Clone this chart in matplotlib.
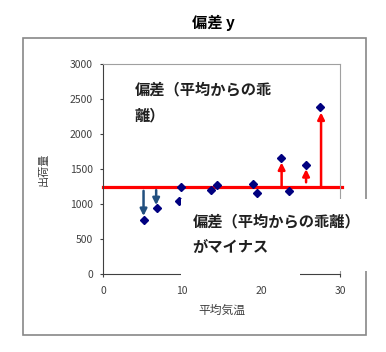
import matplotlib
matplotlib.use("Agg")
from matplotlib import pyplot as plt
from matplotlib.patches import Rectangle

plt.rcParams['font.family'] = ['Noto Sans CJK JP', 'DejaVu Sans']

# data
kion = [5.1, 6.8, 9.55, 9.8, 13.65, 14.4, 19.0, 19.5, 22.5, 23.5, 25.7, 27.5]
shukka = [768, 944, 1049, 1249, 1202, 1273, 1292, 1154, 1660, 1187, 1559, 2394]
heikin = 1250

# arrows: x, start, end
plus_x = [22.6, 25.7, 27.6]
plus_start = [1250, 1312, 1250]
plus_end = [1595, 1500, 2310]
minus_x = [5.1, 6.7]
minus_start = [1190, 1200]
minus_end = [830, 985]

W, H = 386, 352
fig = plt.figure(figsize=(W / 100, H / 100), dpi=100)
ax = fig.add_axes([103.3 / W, 1 - 274 / H, (340 - 103.3) / W, (274 - 64.3) / H])

ax.plot([0, 30.3], [heikin, heikin], color="#ff0000", lw=2.3, clip_on=False, zorder=2)
ax.plot(kion, shukka, linestyle="", marker="D", markersize=4.3, color="#000080", zorder=4)

for x, a, b in zip(plus_x, plus_start, plus_end):
    ax.annotate("", xy=(x, b), xytext=(x, a),
                arrowprops=dict(arrowstyle="-|>", color="#ff0000", lw=1.8,
                                mutation_scale=10, shrinkA=0, shrinkB=0), zorder=3)
for x, a, b in zip(minus_x, minus_start, minus_end):
    ax.annotate("", xy=(x, b), xytext=(x, a),
                arrowprops=dict(arrowstyle="-|>", color="#22507f", lw=1.8,
                                mutation_scale=10, shrinkA=0, shrinkB=0), zorder=3)

ax.set_xlim(0, 30)
ax.set_ylim(0, 3000)
ax.set_xticks([0, 10, 20, 30])
ax.set_yticks(range(0, 3001, 500))
ax.tick_params(direction="out", length=2.5, width=0.8, color="#404040",
               labelsize=7.5, labelcolor="#404040")
ax.tick_params(axis="y", pad=5)
ax.tick_params(axis="x", pad=6)
for s in ["left", "bottom"]:
    ax.spines[s].set_color("#404040")
for s in ["top", "right"]:
    ax.spines[s].set_color("#a0a0a0")

ax.set_xlabel("平均気温", fontsize=8.5, color="#404040", labelpad=6)
ax.set_ylabel("出荷量", fontsize=8, color="#404040")
ax.yaxis.set_label_coords((49 - 103.3) / (340 - 103.3), 0.5)

# outer frame
fig.patches.append(Rectangle((23 / W, 1 - 335 / H), (366 - 23) / W, (335 - 38) / H,
                             transform=fig.transFigure, fill=False,
                             edgecolor="#888888", lw=1.2, zorder=0))
fig.text(213 / W, 1 - 23 / H, "偏差 y", ha="center", va="center",
         fontsize=11, fontweight="bold")

fig.text(135 / W, 1 - 89.3 / H, "偏差（平均からの乖", ha="left", va="center",
         fontsize=11, fontweight="bold", color="#202020", zorder=6)
fig.text(135 / W, 1 - 115 / H, "離）", ha="left", va="center",
         fontsize=11, fontweight="bold", color="#202020", zorder=6)

# white box behind the second note
fig.patches.append(Rectangle((181 / W, 1 - 271 / H), (370 - 181) / W, (271 - 199) / H,
                             transform=fig.transFigure, facecolor="white",
                             edgecolor="none", zorder=5))
fig.patches.append(Rectangle((181 / W, 1 - 279 / H), (300 - 181) / W, 9 / H,
                             transform=fig.transFigure, facecolor="white",
                             edgecolor="none", zorder=5))
fig.text(192.7 / W, 1 - 221.7 / H, "偏差（平均からの乖離）", ha="left", va="center",
         fontsize=11, fontweight="bold", color="#202020", zorder=6)
fig.text(192.7 / W, 1 - 246.7 / H, "がマイナス", ha="left", va="center",
         fontsize=11, fontweight="bold", color="#202020", zorder=6)

fig.savefig("out.png", dpi=100)
